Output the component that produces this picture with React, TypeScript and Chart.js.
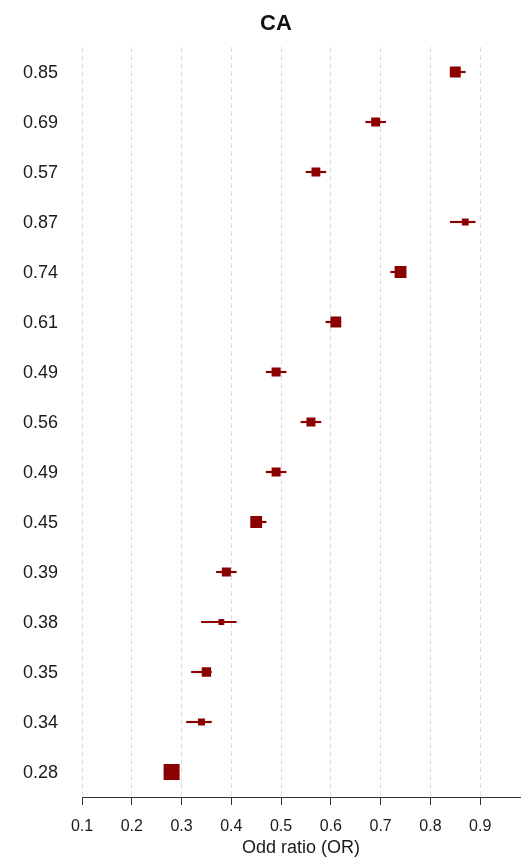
import React, { useEffect, useRef } from 'react';
import { Chart, registerables } from 'chart.js';

Chart.register(...registerables);

// Odds ratio per row (top to bottom), with 95% confidence limits
const oddsRatios = [0.85, 0.69, 0.57, 0.87, 0.74, 0.61, 0.49, 0.56, 0.49, 0.45, 0.39, 0.38, 0.35, 0.34, 0.28];
const lowerCI = [0.84, 0.67, 0.55, 0.84, 0.72, 0.59, 0.47, 0.54, 0.47, 0.44, 0.37, 0.34, 0.32, 0.31, 0.27];
const upperCI = [0.87, 0.71, 0.59, 0.89, 0.75, 0.62, 0.51, 0.58, 0.51, 0.47, 0.41, 0.41, 0.36, 0.36, 0.29];
// Relative study weight, drives the marker size
const studyWeights = [5.5, 4.5, 4.4, 3.4, 5.9, 5.4, 4.5, 4.5, 4.5, 5.9, 4.5, 2.9, 4.7, 3.5, 8.0];

const rowLabels = oddsRatios.map((v) => v.toFixed(2));
const xTickValues = [0.1, 0.2, 0.3, 0.4, 0.5, 0.6, 0.7, 0.8, 0.9];
const xMin = 0.1;
const xMax = 0.98;

const FONT = '"Liberation Sans", Arial, Helvetica, sans-serif';
const MARK = '#8b0000';

const titlePlugin = {
  id: 'plotTitle',
  afterDraw(chart: any) {
    const { ctx } = chart;
    ctx.save();
    ctx.font = `bold 22px ${FONT}`;
    ctx.fillStyle = '#111111';
    ctx.textAlign = 'center';
    ctx.textBaseline = 'middle';
    ctx.fillText('CA', 276, 24);
    ctx.restore();
  },
};

export default function App() {
  const canvasRef = useRef<HTMLCanvasElement | null>(null);

  useEffect(() => {
    if (!canvasRef.current) return;
    Chart.defaults.font.family = FONT;

    const chart = new Chart(canvasRef.current, {
      type: 'bar',
      data: {
        labels: rowLabels,
        datasets: [
          {
            type: 'line',
            label: 'OR',
            data: oddsRatios,
            showLine: false,
            pointStyle: 'rect',
            pointRadius: studyWeights.map((w) => (w * 2) / Math.SQRT2),
            pointHoverRadius: studyWeights.map((w) => (w * 2) / Math.SQRT2),
            pointBorderWidth: 0,
            pointBackgroundColor: MARK,
            borderColor: MARK,
            order: 0,
          } as any,
          {
            type: 'bar',
            label: '95% CI',
            data: lowerCI.map((lo, i) => [lo, upperCI[i]]),
            backgroundColor: MARK,
            borderWidth: 0,
            barThickness: 1.5,
            order: 1,
          } as any,
        ],
      },
      options: {
        indexAxis: 'y',
        responsive: false,
        animation: false,
        layout: { autoPadding: false, padding: { top: 47, right: 3, left: 0, bottom: 0 } },
        plugins: {
          legend: { display: false },
          tooltip: { enabled: false },
          title: { display: false },
        },
        scales: {
          x: {
            type: 'linear',
            min: xMin,
            max: xMax,
            afterBuildTicks: (scale: any) => {
              scale.ticks = xTickValues.map((value) => ({ value }));
            },
            afterFit: (scale: any) => {
              scale.height = 60;
            },
            grid: {
              color: '#dcdcdc',
              lineWidth: 1,
              drawTicks: true,
              tickLength: 8,
              tickColor: '#333333',
              tickWidth: 1,
              tickBorderDash: [],
            } as any,
            border: { display: true, color: '#333333', width: 1, dash: [5, 3] },
            ticks: {
              color: '#1a1a1a',
              font: { size: 16 },
              padding: 12,
              maxRotation: 0,
              callback: (v: any) => Number(v).toFixed(1),
            },
            title: {
              display: true,
              text: 'Odd ratio (OR)',
              color: '#1a1a1a',
              font: { size: 18, lineHeight: 1 },
              padding: { top: 0, bottom: 0 },
            },
          },
          y: {
            type: 'category',
            offset: true,
            afterFit: (scale: any) => {
              scale.width = 82;
            },
            grid: { display: false, drawTicks: false },
            border: { display: false },
            ticks: {
              color: '#1a1a1a',
              font: { size: 18 },
              padding: 24,
              labelOffset: 1.5,
            },
          },
        },
      } as any,
      plugins: [titlePlugin],
    });

    return () => chart.destroy();
  }, []);

  return (
    <div style={{ position: 'absolute', left: 0, top: 0, width: 523, height: 857, background: '#ffffff' }}>
      <canvas ref={canvasRef} width={523} height={857} />
    </div>
  );
}
